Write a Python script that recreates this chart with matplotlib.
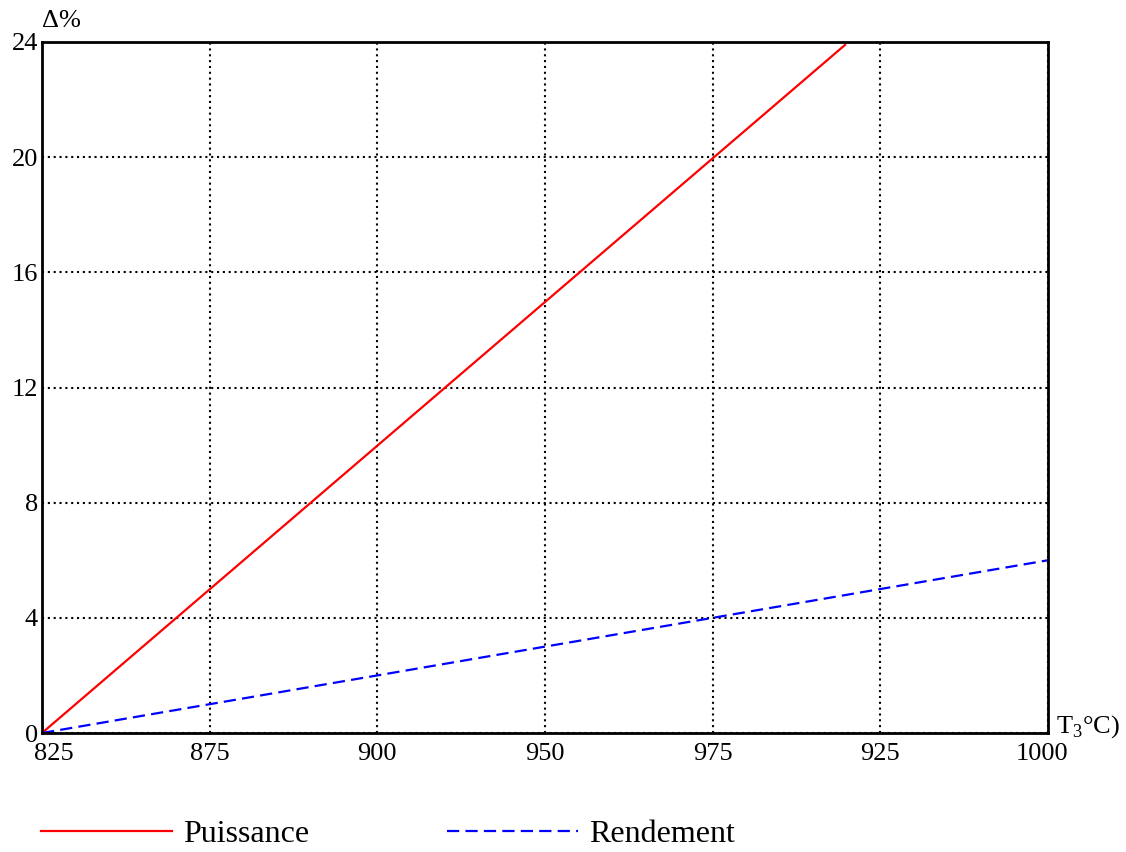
import matplotlib.pyplot as plt
import matplotlib.transforms as mtransforms
import numpy as np

plt.rcParams['font.family'] = ['Liberation Serif', 'DejaVu Serif']
plt.rcParams['mathtext.fontset'] = 'custom'
plt.rcParams['mathtext.rm'] = 'Liberation Serif'

# --- données ---
x_ticks = [825, 854.17, 883.33, 912.5, 941.67, 970.83, 1000]
x_labels = ['825', '875', '900', '950', '975', '925', '1000']
y_ticks = [0, 4, 8, 12, 16, 20, 24]

x_puissance = [825, 964.7]
y_puissance = [0, 23.9]
x_rendement = [825, 1000]
y_rendement = [0, 6]

fig = plt.figure(figsize=(11.26, 8.52), dpi=100)
ax = fig.add_axes([42/1126, 1 - 733/852, 1006/1126, 691/852])

l1, = ax.plot(x_puissance, y_puissance, color='#ff0000', lw=1.6, label='Puissance')
l2, = ax.plot(x_rendement, y_rendement, color='#0000ff', lw=1.6,
              linestyle=(0, (5.5, 2.8)), label='Rendement')

ax.set_xlim(825, 1000)
ax.set_ylim(0, 24)
ax.set_xticks(x_ticks)
ax.set_xticklabels(x_labels)
ax.set_yticks(y_ticks)
ax.tick_params(length=0, labelsize=19, pad=3)
ax.tick_params(axis='x', pad=7)
ax.grid(True, color='black', linestyle=(0, (1, 1.8)), linewidth=1.5)
for s in ax.spines.values():
    s.set_linewidth(2)
    s.set_zorder(5)

# décalage des étiquettes extrêmes
lbls = ax.get_xticklabels()
lbls[0].set_transform(lbls[0].get_transform() +
                      mtransforms.ScaledTranslation(0.12, 0, fig.dpi_scale_trans))
lbls[-1].set_transform(lbls[-1].get_transform() +
                       mtransforms.ScaledTranslation(-0.06, 0, fig.dpi_scale_trans))

ax.text(0.0, 1.014, 'Δ%', transform=ax.transAxes, fontsize=19,
        ha='left', va='bottom')
ax.text(1.008, 0.01, r'T$_3$°C)', transform=ax.transAxes, fontsize=19,
        ha='left', va='center')

fig.legend(handles=[l1, l2], loc='lower left', bbox_to_anchor=(0.011, -0.03),
           ncol=2, frameon=False, fontsize=23, handlelength=4.1,
           handletextpad=0.35, columnspacing=4.3)

fig.savefig('out.png', dpi=100)
